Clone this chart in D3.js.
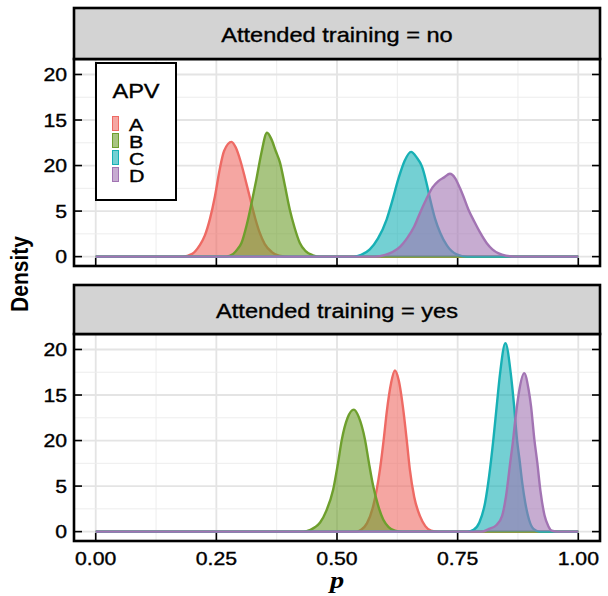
<!DOCTYPE html>
<html>
<head>
<meta charset="utf-8">
<script src="https://cdn.jsdelivr.net/npm/d3@7"></script>
<style>
  body { margin: 0; background: #fff; }
  svg { display: block; }
  text { font-family: "Liberation Sans", Arial, Helvetica, sans-serif; fill: #000; }
  text.heavy { stroke: #000; stroke-width: 0.35px; }
</style>
</head>
<body>
<svg id="chart" width="608" height="596"></svg>
<script>
// ---- data: [p, density] ----
const groups = ["A", "B", "C", "D"];
const colors = ["#ee6a64", "#6e9f2d", "#17b0b5", "#a274b3"];
const facets = ["Attended training = no", "Attended training = yes"];

const noA = [[0,0],[0.18,0],[0.2,0.3],[0.215,1.2],[0.226,2.3],[0.237,4.2],[0.247,6.6],[0.257,9.6],[0.266,11.6],[0.2815,12.6],[0.29,12.0],[0.3,10.5],[0.31,8.5],[0.319,6.6],[0.33,4.3],[0.34,2.6],[0.35,1.4],[0.365,0.5],[0.38,0.1],[0.4,0],[1,0]];
const noB = [[0,0],[0.27,0],[0.285,0.3],[0.295,0.9],[0.302,1.5],[0.313,3.5],[0.323,5.9],[0.333,8.5],[0.343,11.3],[0.355,13.6],[0.364,12.9],[0.373,11.6],[0.382,10.3],[0.392,7.8],[0.402,5.2],[0.412,3.2],[0.423,1.5],[0.435,0.6],[0.45,0.15],[0.465,0],[1,0]];
const noC = [[0,0],[0.535,0],[0.55,0.2],[0.568,0.8],[0.585,2.0],[0.603,4.1],[0.615,6.2],[0.627,8.5],[0.64,10.5],[0.6535,11.5],[0.665,10.9],[0.676,9.9],[0.685,8.2],[0.693,6.3],[0.703,4.2],[0.714,2.6],[0.728,1.2],[0.748,0.25],[0.77,0],[1,0]];
const noD = [[0,0],[0.58,0],[0.6,0.2],[0.615,0.5],[0.631,1.1],[0.645,2.0],[0.66,3.3],[0.672,4.8],[0.685,6.3],[0.698,7.6],[0.71,8.3],[0.722,8.7],[0.734,9.1],[0.745,8.6],[0.755,7.5],[0.762,6.6],[0.772,5.2],[0.785,3.8],[0.797,2.6],[0.81,1.5],[0.822,0.8],[0.835,0.35],[0.85,0.1],[0.87,0],[1,0]];

const yesA = [[0,0],[0.54,0],[0.55,0.2],[0.562,0.9],[0.575,2.8],[0.589,6.8],[0.597,10.2],[0.603,13.1],[0.612,16.3],[0.62,17.7],[0.628,16.6],[0.638,13.1],[0.645,9.8],[0.651,6.8],[0.66,3.8],[0.672,1.7],[0.683,0.6],[0.695,0.1],[0.71,0],[1,0]];
const yesB = [[0,0],[0.43,0],[0.445,0.2],[0.455,0.5],[0.465,1.0],[0.478,2.3],[0.492,4.6],[0.502,7.5],[0.51,10.1],[0.522,12.5],[0.535,13.4],[0.545,12.6],[0.558,10.1],[0.566,7.6],[0.575,5.0],[0.585,2.9],[0.596,1.3],[0.607,0.5],[0.62,0.1],[0.635,0],[1,0]];
const yesC = [[0,0],[0.77,0],[0.783,0.2],[0.795,1.0],[0.807,3.2],[0.815,6.0],[0.824,10.1],[0.831,13.8],[0.838,17.4],[0.849,20.7],[0.86,17.4],[0.867,13.8],[0.873,10.1],[0.878,8.0],[0.884,5.3],[0.89,3.2],[0.898,1.3],[0.907,0.3],[0.92,0],[1,0]];
const yesD = [[0,0],[0.8,0],[0.815,0.3],[0.83,0.7],[0.842,1.7],[0.85,3.8],[0.859,7.6],[0.865,10.1],[0.868,11.6],[0.873,13.8],[0.878,15.6],[0.888,17.4],[0.897,15.6],[0.902,13.8],[0.909,10.1],[0.915,7.6],[0.922,4.3],[0.93,1.8],[0.938,0.6],[0.945,0.1],[0.955,0],[1,0]];

const xTicks = [0, 0.25, 0.5, 0.75, 1];
const xTickLabels = ["0.00", "0.25", "0.50", "0.75", "1.00"];
const yTicks = [0, 5, 10, 15, 20];
const yTickLabels = ["0", "5", "20", "15", "20"]; // as printed in the source

const panelData = [[noA, noB, noC, noD], [yesA, yesB, yesC, yesD]];

// ---- layout ----
const SX = 1.18; // text in the source is a bit wider than Arial
const left = 74, right = 600;
const panels = [
  { stripTop: 8, top: 59, bottom: 266 },
  { stripTop: 285, top: 334, bottom: 541 }
];

const svg = d3.select("#chart");

const x = d3.scaleLinear().domain([-0.045, 1.045]).range([left, right]);

function wideText(g, tx, ty, str, sx = SX) {
  return g.append("text")
    .attr("class", "heavy")
    .attr("transform", `translate(${tx},${ty}) scale(${sx},1)`)
    .text(str);
}

const area = d3.area().curve(d3.curveMonotoneX);
const line = d3.line().curve(d3.curveMonotoneX);

panels.forEach((pn, pi) => {
  const y = d3.scaleLinear().domain([-1.03, 21.7]).range([pn.bottom, pn.top]);
  const g = svg.append("g");

  // grid: minor first, major over it
  const xGrid = d3.range(-0.125, 1.2, 0.125).filter(v => x(v) > left && x(v) < right);
  g.selectAll("line.vgrid").data(xGrid).join("line")
    .attr("x1", d => x(d)).attr("x2", d => x(d))
    .attr("y1", pn.top).attr("y2", pn.bottom)
    .attr("stroke", d => xTicks.some(t => Math.abs(t - d) < 1e-9) ? "#e4e4e4" : "#ededed")
    .attr("stroke-width", d => xTicks.some(t => Math.abs(t - d) < 1e-9) ? 1.8 : 1);
  const yGrid = d3.range(0, 21.5, 2.5);
  g.selectAll("line.hgrid").data(yGrid).join("line")
    .attr("x1", left).attr("x2", right)
    .attr("y1", d => y(d)).attr("y2", d => y(d))
    .attr("stroke", d => d % 5 === 0 ? "#e4e4e4" : "#ededed")
    .attr("stroke-width", d => d % 5 === 0 ? 1.8 : 1);

  // densities
  area.x(d => x(d[0])).y0(y(0)).y1(d => y(d[1]));
  line.x(d => x(d[0])).y(d => y(d[1]));
  panelData[pi].forEach((ser, si) => {
    g.append("path").attr("d", area(ser))
      .attr("fill", colors[si]).attr("fill-opacity", 0.6);
    g.append("path").attr("d", line(ser))
      .attr("fill", "none").attr("stroke", colors[si])
      .attr("stroke-width", 2.4).attr("stroke-linejoin", "round");
  });

  // ticks (inward) on left, right and bottom
  const tk = 8;
  g.selectAll("line.yt").data(yTicks).join("line")
    .attr("x1", left).attr("x2", left + tk)
    .attr("y1", d => y(d)).attr("y2", d => y(d))
    .attr("stroke", "#000").attr("stroke-width", 1.6);
  g.selectAll("line.yt2").data(yTicks).join("line")
    .attr("x1", right - tk).attr("x2", right)
    .attr("y1", d => y(d)).attr("y2", d => y(d))
    .attr("stroke", "#000").attr("stroke-width", 1.6);
  g.selectAll("line.xt").data(xTicks).join("line")
    .attr("x1", d => x(d)).attr("x2", d => x(d))
    .attr("y1", pn.bottom - tk).attr("y2", pn.bottom)
    .attr("stroke", "#000").attr("stroke-width", 1.6);

  // y labels
  yTicks.forEach((t, i) => {
    wideText(g, 67, y(t) + 6.5, yTickLabels[i])
      .attr("text-anchor", "end").attr("font-size", 18);
  });

  // panel border
  g.append("rect")
    .attr("x", left).attr("y", pn.top)
    .attr("width", right - left).attr("height", pn.bottom - pn.top)
    .attr("fill", "none").attr("stroke", "#000").attr("stroke-width", 2.6);

  // strip
  g.append("rect")
    .attr("x", left).attr("y", pn.stripTop)
    .attr("width", right - left).attr("height", pn.top - pn.stripTop)
    .attr("fill", "#d3d3d3").attr("stroke", "#000").attr("stroke-width", 2.6);
  wideText(g, (left + right) / 2, (pn.stripTop + pn.top) / 2 + 8, facets[pi])
    .attr("text-anchor", "middle").attr("font-size", 20);
});

// x labels under the bottom panel
xTicks.forEach((t, i) => {
  wideText(svg, x(t), 565, xTickLabels[i])
    .attr("text-anchor", "middle").attr("font-size", 18);
});

// axis titles
svg.append("text")
  .attr("transform", `translate(28,274) rotate(-90) scale(1,${SX})`)
  .attr("text-anchor", "middle")
  .attr("font-size", 21).attr("font-weight", "bold")
  .text("Density");

svg.append("text")
  .attr("transform", `translate(${x(0.5)},588) scale(${SX},1)`)
  .attr("text-anchor", "middle")
  .style("font-family", "'Liberation Serif', 'Times New Roman', serif")
  .attr("font-size", 24).attr("font-weight", "bold").attr("font-style", "italic")
  .text("p");

// legend
const lg = svg.append("g");
lg.append("rect")
  .attr("x", 96).attr("y", 63).attr("width", 80).attr("height", 137)
  .attr("fill", "#fff").attr("stroke", "#000").attr("stroke-width", 2);
wideText(lg, 136, 98, "APV").attr("text-anchor", "middle").attr("font-size", 20);
groups.forEach((k, i) => {
  lg.append("rect")
    .attr("x", 112.5).attr("y", 116.5 + i * 17)
    .attr("width", 6).attr("height", 14)
    .attr("fill", colors[i]).attr("fill-opacity", 0.6)
    .attr("stroke", colors[i]).attr("stroke-width", 1);
  wideText(lg, 129, 130.5 + i * 17, k, 1.3).attr("font-size", 16.5);
});
</script>
</body>
</html>
